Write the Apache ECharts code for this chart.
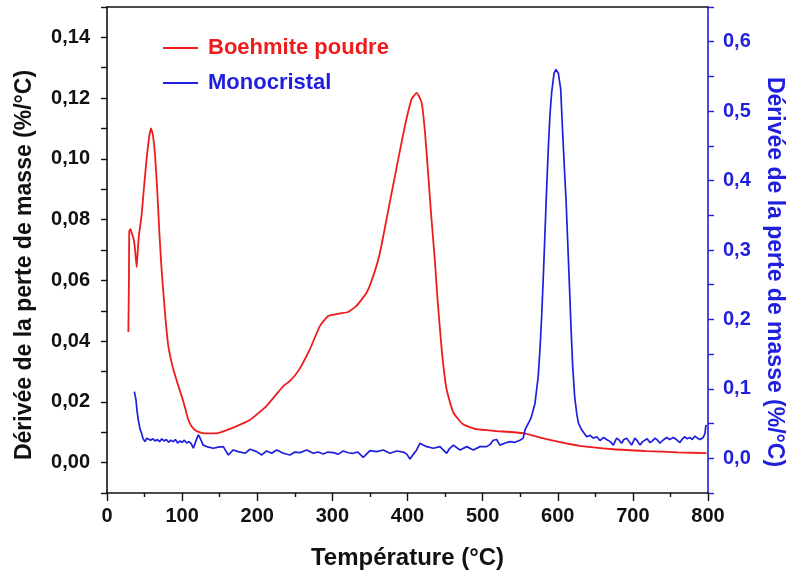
<!DOCTYPE html>
<html>
<head>
<meta charset="utf-8">
<script src="https://cdn.jsdelivr.net/npm/echarts@6/dist/echarts.min.js"></script>
<style>html,body{margin:0;padding:0;background:#fff}#c{width:790px;height:581px}</style>
</head>
<body>
<div id="c"></div>
<script>
var seriesNames = ['Boehmite poudre', 'Monocristal'];
var xTitle = 'Température (°C)';
var yTitle = 'Dérivée de la perte de masse (%/°C)';

var tempsRed = [28.4,29.2,29.7,31.5,33,35,37,39.5,41,43,46,49,52.7,56,58.6,61,64,67,69.7,72,75,78,81.6,85,88.3,94,99.4,104,108,113,119,126,133,141.5,150,168,190,212.5,234.7,243.6,254.7,270,283.5,294.6,310,321,332,345.7,354.5,363.4,374.4,385.6,396.6,405.5,412.2,418.8,423.3,427.7,432,436.6,439.6,445.5,452,461,474,492,518.7,554,585,629.6,674,718,760,798];
var valuesRed = [0.043,0.060,0.0763,0.0769,0.0755,0.0741,0.071,0.0643,0.070,0.0758,0.0813,0.090,0.0999,0.107,0.110,0.108,0.101,0.089,0.0758,0.066,0.056,0.047,0.0384,0.034,0.0307,0.026,0.0219,0.018,0.0143,0.0118,0.0104,0.0098,0.0096,0.0096,0.0099,0.0115,0.014,0.0187,0.0252,0.0269,0.0302,0.0373,0.045,0.0483,0.0491,0.0496,0.0516,0.056,0.0615,0.0692,0.0831,0.0973,0.1109,0.1197,0.1217,0.1186,0.1087,0.0944,0.080,0.066,0.055,0.0373,0.0242,0.0165,0.0126,0.011,0.0104,0.0097,0.0077,0.0055,0.0044,0.0038,0.0034,0.0031];

var tempsBlue = [36.4,38.6,40,41.7,44,46,48,50.6,53,55,58,61,64,67,70,73,76,79,82,85,88,91,94,97,100,103,106,109,112,115,118,121.5,124,128,130.4,135,141.5,148,154.8,161.5,168.1,174.8,183.7,190.3,199.2,205.9,212.5,219.2,225.9,234.7,243.6,250,256.9,265.8,274.6,281,287.9,294,301.2,308,314.5,321,327.8,334,341.1,350,359,367.8,376.7,385.6,394.4,399,403.3,408,412.2,416.6,421,425.5,434.4,443.2,452.1,456,461,469.9,478.8,487.5,496.5,505.4,510,514.2,518.6,523,530,536.4,543,549.7,554,556.4,558.6,563,565,569.7,574,576.3,578.6,580.8,583,585.2,587.4,589.6,591.9,595,597.6,600.7,603.9,606.5,608.7,611,613.2,615.4,617.6,619.9,622.5,625.2,627.4,631.8,638.5,643,647.4,652,656.2,661,665,670,674,678.4,682,685,688,691.7,695,698.3,702.7,706,709.5,713,716,719,722.7,726,729.4,733,736,740,745,749,753.8,758,762.6,766,769.3,772,776,779,782.6,786,789.5,793.7,796,797,798];
var valuesBlue = [0.096,0.084,0.068,0.055,0.042,0.036,0.028,0.024,0.029,0.029,0.026,0.028,0.025,0.027,0.024,0.028,0.025,0.027,0.023,0.026,0.024,0.027,0.022,0.025,0.023,0.026,0.022,0.024,0.021,0.0145,0.024,0.034,0.029,0.019,0.0168,0.016,0.0145,0.016,0.0168,0.0048,0.012,0.0096,0.0072,0.013,0.0096,0.0048,0.0105,0.0072,0.012,0.0072,0.0048,0.009,0.0081,0.012,0.0072,0.009,0.0062,0.009,0.0081,0.006,0.0105,0.008,0.0072,0.009,0.0014,0.011,0.0096,0.012,0.0072,0.0105,0.009,0.006,-0.001,0.006,0.012,0.0217,0.019,0.0168,0.0145,0.0168,0.0072,0.014,0.019,0.012,0.0168,0.012,0.0168,0.0168,0.02,0.026,0.027,0.019,0.022,0.024,0.023,0.026,0.029,0.041,0.041,0.055,0.060,0.079,0.118,0.156,0.205,0.262,0.325,0.388,0.446,0.494,0.527,0.554,0.560,0.555,0.532,0.470,0.421,0.373,0.313,0.253,0.190,0.132,0.089,0.065,0.051,0.041,0.031,0.033,0.029,0.031,0.0255,0.03,0.027,0.024,0.019,0.029,0.026,0.0217,0.027,0.029,0.024,0.019,0.029,0.025,0.019,0.024,0.026,0.028,0.0226,0.025,0.029,0.026,0.0217,0.026,0.030,0.027,0.030,0.027,0.0226,0.028,0.031,0.028,0.030,0.027,0.032,0.029,0.027,0.030,0.036,0.046,0.048];

var RED = '#ee1c1c';
var BLUE = '#1f1fdd';
var FONT = "'Liberation Sans', Arial, sans-serif";

function pairs(xs, ys) { return xs.map(function (x, i) { return [x, ys[i]]; }); }

var chart = echarts.init(document.getElementById('c'), null, { renderer: 'canvas' });
chart.setOption({
  animation: false,
  backgroundColor: '#fff',
  textStyle: { fontFamily: FONT },
  grid: { left: 107, right: 82, top: 7, bottom: 88, containLabel: false, outerBoundsMode: 'none' },
  legend: {
    orient: 'vertical', left: 158, top: 32, itemGap: 13,
    itemWidth: 35, itemHeight: 2, icon: 'rect',
    textStyle: { fontSize: 22, fontWeight: 'bold', fontFamily: FONT, padding: [0, 0, 0, 5] },
    data: [
      { name: seriesNames[0], textStyle: { color: RED } },
      { name: seriesNames[1], textStyle: { color: BLUE } }
    ]
  },
  xAxis: [{
    type: 'value', min: 0, max: 800, interval: 100,
    name: xTitle, nameLocation: 'middle', nameGap: 53,
    nameTextStyle: { fontSize: 24, fontWeight: 'bold', color: '#111', fontFamily: FONT },
    axisLine: { onZero: false, lineStyle: { color: '#111', width: 1.6 } },
    axisTick: { length: 8, lineStyle: { color: '#111', width: 1.4 } },
    minorTick: { show: true, splitNumber: 2, length: 4, lineStyle: { color: '#111', width: 1.4 } },
    axisLabel: { fontSize: 20, fontWeight: 'bold', color: '#111', margin: 13, fontFamily: FONT },
    splitLine: { show: false }
  }, {
    type: 'value', min: 0, max: 800, position: 'top',
    axisLine: { show: true, onZero: false, lineStyle: { color: '#111', width: 1.6 } },
    axisTick: { show: false }, axisLabel: { show: false }, splitLine: { show: false }
  }],
  yAxis: [{
    type: 'value', min: -0.01, max: 0.15, interval: 0.01, position: 'left',
    name: yTitle, nameLocation: 'middle', nameGap: 71,
    nameTextStyle: { fontSize: 23, fontWeight: 'bold', color: '#111', fontFamily: FONT, padding: [0, 30, 0, 0] },
    axisLine: { show: true, onZero: false, lineStyle: { color: '#111', width: 1.6 } },
    axisTick: { length: 6, lineStyle: { color: '#111', width: 1.4 } },
    axisLabel: {
      fontSize: 20, fontWeight: 'bold', color: '#111', margin: 17, fontFamily: FONT,
      formatter: function (v) { var k = Math.round(v * 100); if (k % 2 !== 0 || k < 0 || k > 14) return ''; return (k / 100).toFixed(2).replace('.', ','); }
    },
    splitLine: { show: false }
  }, {
    type: 'value', min: -0.05, max: 0.65, interval: 0.05, position: 'right',
    name: yTitle, nameLocation: 'middle', nameGap: 55, nameRotate: -90,
    nameTextStyle: { fontSize: 23, fontWeight: 'bold', color: BLUE, fontFamily: FONT, padding: [0, 0, 0, 44] },
    axisLine: { show: true, onZero: false, lineStyle: { color: BLUE, width: 1.6 } },
    axisTick: { length: 6, lineStyle: { color: BLUE, width: 1.4 } },
    axisLabel: {
      fontSize: 20, fontWeight: 'bold', color: BLUE, margin: 15, fontFamily: FONT,
      formatter: function (v) { var k = Math.round(v * 100); if (k % 10 !== 0 || k < 0 || k > 60) return ''; return (k / 100).toFixed(1).replace('.', ','); }
    },
    splitLine: { show: false }
  }],
  series: [{
    name: seriesNames[0], type: 'line', xAxisIndex: 0, yAxisIndex: 0,
    data: pairs(tempsRed, valuesRed), showSymbol: false, symbol: 'none', smooth: 0.15,
    lineStyle: { color: RED, width: 1.8 }, itemStyle: { color: RED }
  }, {
    name: seriesNames[1], type: 'line', xAxisIndex: 0, yAxisIndex: 1,
    data: pairs(tempsBlue, valuesBlue), showSymbol: false, symbol: 'none',
    lineStyle: { color: BLUE, width: 1.7 }, itemStyle: { color: BLUE }
  }]
});
</script>
</body>
</html>
